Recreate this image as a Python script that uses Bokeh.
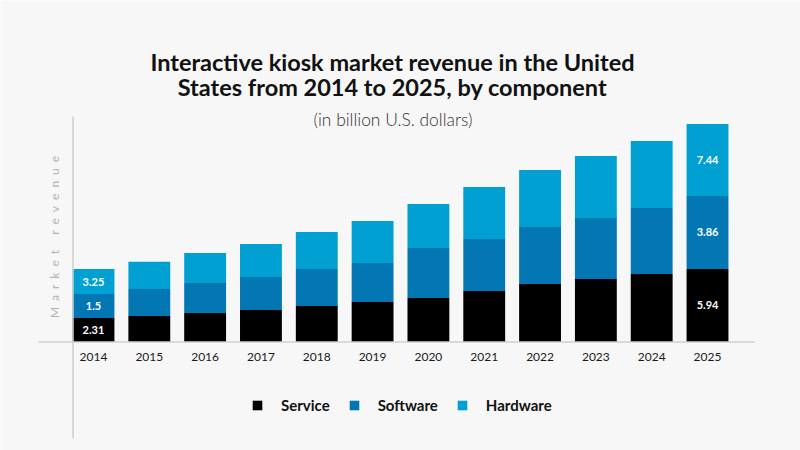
from bokeh.plotting import figure
from bokeh.models import (FactorRange, Range1d, CategoricalAxis, Legend, LegendItem,
                          ColumnDataSource)
from bokeh.core.properties import value
from bokeh.embed import file_html
from bokeh.resources import INLINE
import math

# ---------------- data (segment heights as drawn in the picture) ----------------
years = ["2014", "2015", "2016", "2017", "2018", "2019",
         "2020", "2021", "2022", "2023", "2024", "2025"]
components = ["Service", "Software", "Hardware"]
service = [1.95, 2.12, 2.36, 2.60, 2.93, 3.25, 3.58, 4.15, 4.72, 5.13, 5.53, 5.94]
software = [1.95, 2.20, 2.44, 2.69, 3.01, 3.17, 4.07, 4.23, 4.64, 4.96, 5.37, 5.94]
hardware = [2.03, 2.20, 2.44, 2.69, 3.01, 3.42, 3.58, 4.23, 4.64, 5.04, 5.45, 5.86]

# printed value labels
label_years = ["2014", "2014", "2014", "2025", "2025", "2025"]
label_components = ["Service", "Software", "Hardware", "Service", "Software", "Hardware"]
label_texts = ["2.31", "1.5", "3.25", "5.94", "3.86", "7.44"]

title_lines = ["Interactive kiosk market revenue in the United",
               "States from 2014 to 2025, by component"]
subtitle = "(in billion U.S. dollars)"
y_title = "Market revenue"

colors = ["#000000", "#0277b3", "#00a0d3"]
BG = "#f7f7f7"
FONT = "Lato"

# ---------------- geometry ----------------
W, H = 800, 450
K = 12.29            # px per unit
BASE = 341.5         # baseline, px from top
SPACING = 55.82      # px between category centres
XPAD = (W / SPACING - len(years)) / 2


def ydata(sy):
    return (BASE - sy) / K


def xdata(sx):
    return -XPAD + sx / SPACING


p = figure(width=W, height=H, output_backend="svg", toolbar_location=None,
           x_range=FactorRange(factors=years, range_padding=XPAD,
                               range_padding_units="absolute"),
           y_range=Range1d(ydata(H), ydata(0)),
           x_axis_location=None, y_axis_location=None,
           min_border=0, min_border_left=0, min_border_right=0,
           min_border_top=0, min_border_bottom=0)
p.background_fill_color = BG
p.border_fill_color = BG
p.outline_line_color = None
p.xgrid.visible = False
p.ygrid.visible = False

src = ColumnDataSource(dict(year=years, Service=service, Software=software, Hardware=hardware))
renderers = p.vbar_stack(components, x="year", width=0.75, source=src,
                         fill_color=colors, line_color=None)

# axis lines
p.segment(x0=[xdata(38)], y0=[0], x1=[xdata(754)], y1=[0], line_color="#cfcfcf", line_width=1.5)
p.segment(x0=[xdata(72.5)], y0=[ydata(116)], x1=[xdata(72.5)], y1=[ydata(438)],
          line_color="#cfcfcf", line_width=1.5)

# x axis (fixed at baseline)
ax = CategoricalAxis(fixed_location=0)
ax.axis_line_color = None
ax.major_tick_line_color = None
ax.minor_tick_line_color = None
ax.major_tick_out = 0
ax.major_tick_in = 0
ax.major_label_standoff = 11
ax.major_label_text_font = FONT
ax.major_label_text_font_size = "12px"
ax.major_label_text_color = "#1a1a1a"
p.add_layout(ax, "below")

# value labels at segment centres
series = dict(Service=service, Software=software, Hardware=hardware)
lab_y = []
for yr, comp in zip(label_years, label_components):
    i = years.index(yr)
    bottom = 0.0
    for c in components:
        if c == comp:
            lab_y.append(bottom + series[c][i] / 2)
            break
        bottom += series[c][i]
p.text(x=label_years, y=lab_y, text=label_texts, text_color="white",
       text_font=value(FONT), text_font_style="bold", text_font_size="11px",
       text_align="center", text_baseline="middle")

# title, subtitle
p.text(x=[xdata(392), xdata(392)], y=[ydata(61), ydata(86)], text=title_lines,
       text_color="#111111", text_font=value(FONT), text_font_style="bold",
       text_font_size="23.5px", text_align="center", text_baseline="alphabetic")
p.text(x=[xdata(392.5)], y=[ydata(119)], text=[subtitle], text_color="#333333",
       text_font=value("'Lato Light', Lato"), text_font_size="17.4px",
       text_align="center", text_baseline="alphabetic")

# y title (letter-spaced)
spaced = "\u2002".join(y_title)
p.text(x=[xdata(54)], y=[ydata(236.5)], text=[spaced], angle=math.pi / 2,
       text_color="#b3b3b3", text_font=value(FONT), text_font_size="12px",
       text_align="center", text_baseline="middle")

legend = Legend(items=[LegendItem(label=c, renderers=[r]) for c, r in zip(components, renderers)],
                location=(251, 36), orientation="horizontal",
                glyph_width=12, glyph_height=12, label_standoff=18, spacing=18,
                padding=0, margin=0, border_line_color=None, background_fill_alpha=0,
                label_text_font=FONT, label_text_font_style="bold",
                label_text_font_size="15px", label_text_color="#111111",
                label_height=12)
p.add_layout(legend, "center")

open("out.html", "w").write(file_html(p, INLINE))
